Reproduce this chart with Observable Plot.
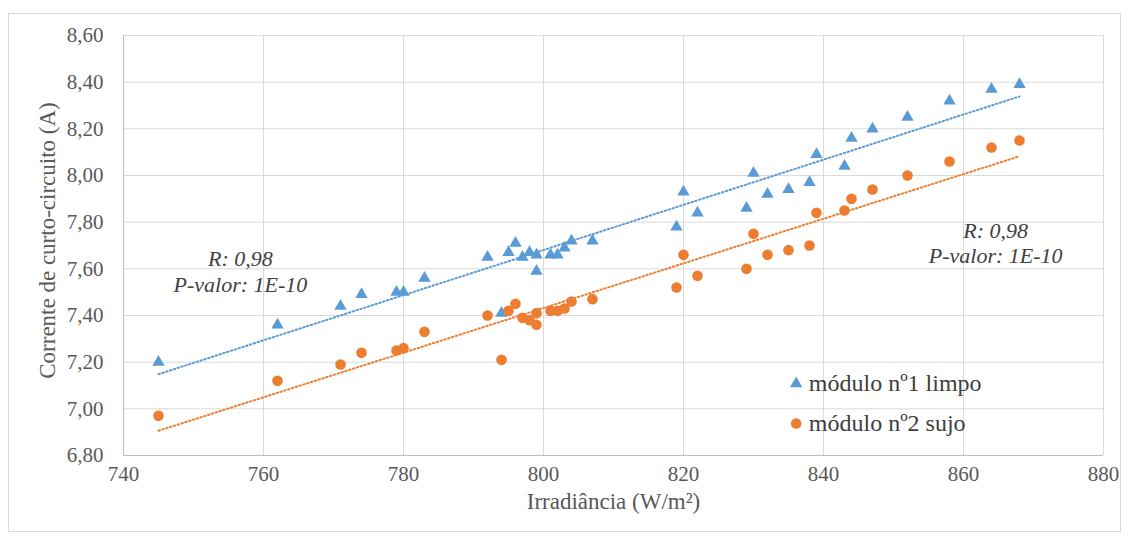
<!DOCTYPE html>
<html>
<head>
<meta charset="utf-8">
<script src="https://cdn.jsdelivr.net/npm/d3@7"></script>
<script src="https://cdn.jsdelivr.net/npm/@observablehq/plot@0.6"></script>
<style>
  html, body { margin: 0; padding: 0; background: #fff; }
  #wrap { position: relative; width: 1128px; height: 536px; }
  #frame { position: absolute; left: 8px; top: 13px; width: 1111px; height: 517px; border: 1px solid #d9d9d9; pointer-events: none; }
  #wrap svg text { font-family: "Liberation Serif", Tinos, "Times New Roman", "DejaVu Serif", serif !important; }
</style>
</head>
<body>
<div id="wrap"><div id="frame"></div></div>
<script>
const irrad1 = [745,762,771,774,779,780,783,792,794,795,796,797,798,799,799,801,802,803,804,807,819,820,822,829,830,832,835,838,839,843,844,847,852,858,864,868];
const corrente1 = [7.20,7.36,7.44,7.49,7.50,7.50,7.56,7.65,7.41,7.67,7.71,7.65,7.67,7.66,7.59,7.66,7.66,7.69,7.72,7.72,7.78,7.93,7.84,7.86,8.01,7.92,7.94,7.97,8.09,8.04,8.16,8.20,8.25,8.32,8.37,8.39];
const irrad2 = [745,762,771,774,779,780,783,792,794,795,796,797,798,799,799,801,802,803,804,807,819,820,822,829,830,832,835,838,839,843,844,847,852,858,864,868];
const corrente2 = [6.97,7.12,7.19,7.24,7.25,7.26,7.33,7.40,7.21,7.42,7.45,7.39,7.38,7.41,7.36,7.42,7.42,7.43,7.46,7.47,7.52,7.66,7.57,7.60,7.75,7.66,7.68,7.70,7.84,7.85,7.90,7.94,8.00,8.06,8.12,8.15];
const seriesNames = ["módulo nº1 limpo", "módulo nº2 sujo"];
const xTicks = [740,760,780,800,820,840,860,880];
const yTicks = [6.8,7.0,7.2,7.4,7.6,7.8,8.0,8.2,8.4,8.6];
const annotText = "R: 0,98\nP-valor: 1E-10";
const xTitle = "Irradiância (W/m²)";
const yTitle = "Corrente de curto-circuito (A)";

const blue = "#5B9BD5", orange = "#ED7D31";
const s1 = irrad1.map((x, i) => ({x, y: corrente1[i]}));
const s2 = irrad2.map((x, i) => ({x, y: corrente2[i]}));
const fmtY = d => d3.format(".2f")(d).replace(".", ",");
const font = "'Liberation Serif', Tinos, 'DejaVu Serif', serif";

const chart = Plot.plot({
  width: 1128, height: 536,
  marginLeft: 123, marginRight: 25, marginTop: 35, marginBottom: 81,
  style: {background: "transparent", overflow: "visible"},
  x: {domain: [740, 880]},
  y: {domain: [6.8, 8.6]},
  marks: [
    Plot.gridX(xTicks, {stroke: "#d9d9d9", strokeOpacity: 1}),
    Plot.gridY(yTicks, {stroke: "#d9d9d9", strokeOpacity: 1}),
    Plot.ruleX([740], {stroke: "#bfbfbf"}),
    Plot.ruleY([6.8], {stroke: "#bfbfbf"}),
    Plot.axisX(xTicks, {tickSize: 0, tickPadding: 11, fontSize: 21, fill: "#595959", label: null}),
    Plot.axisY(yTicks, {tickSize: 0, tickPadding: 20, fontSize: 21, fill: "#595959", tickFormat: fmtY, label: null}),
    Plot.linearRegressionY(s1, {x: "x", y: "y", stroke: blue, strokeWidth: 2, strokeDasharray: "1.5,2.5", ci: 0}),
    Plot.linearRegressionY(s2, {x: "x", y: "y", stroke: orange, strokeWidth: 2, strokeDasharray: "1.5,2.5", ci: 0}),
    Plot.dot(s1, {x: "x", y: "y", symbol: "triangle", r: 4.6, fill: blue}),
    Plot.dot(s2, {x: "x", y: "y", symbol: "circle", r: 5.3, fill: orange}),
    Plot.text([annotText], {x: 756.7, y: 7.591, text: d => d, fontSize: 22, fontStyle: "italic", fill: "#404040", lineHeight: 1.15, textAnchor: "middle"}),
    Plot.text([annotText], {x: 864.6, y: 7.713, text: d => d, fontSize: 22, fontStyle: "italic", fill: "#404040", lineHeight: 1.15, textAnchor: "middle"}),
    Plot.dot([seriesNames[0]], {x: 836.1, y: 7.108, symbol: "triangle", r: 4.6, fill: blue}),
    Plot.dot([seriesNames[1]], {x: 836.1, y: 6.937, symbol: "circle", r: 5.3, fill: orange}),
    Plot.text([seriesNames[0]], {x: 837.9, y: 7.108, text: d => d, fontSize: 24, fill: "#404040", textAnchor: "start"}),
    Plot.text([seriesNames[1]], {x: 837.9, y: 6.937, text: d => d, fontSize: 24, fill: "#404040", textAnchor: "start"}),
    Plot.text([xTitle], {frameAnchor: "bottom", dy: 53, text: d => d, fontSize: 23, fill: "#595959", textAnchor: "middle"}),
    Plot.text([yTitle], {frameAnchor: "left", dx: -76, dy: -5, rotate: -90, text: d => d, fontSize: 23, fill: "#595959", textAnchor: "middle"})
  ]
});
chart.querySelectorAll("text").forEach(t => t.style.setProperty("font-family", font, "important"));
document.getElementById("wrap").prepend(chart);
</script>
</body>
</html>
